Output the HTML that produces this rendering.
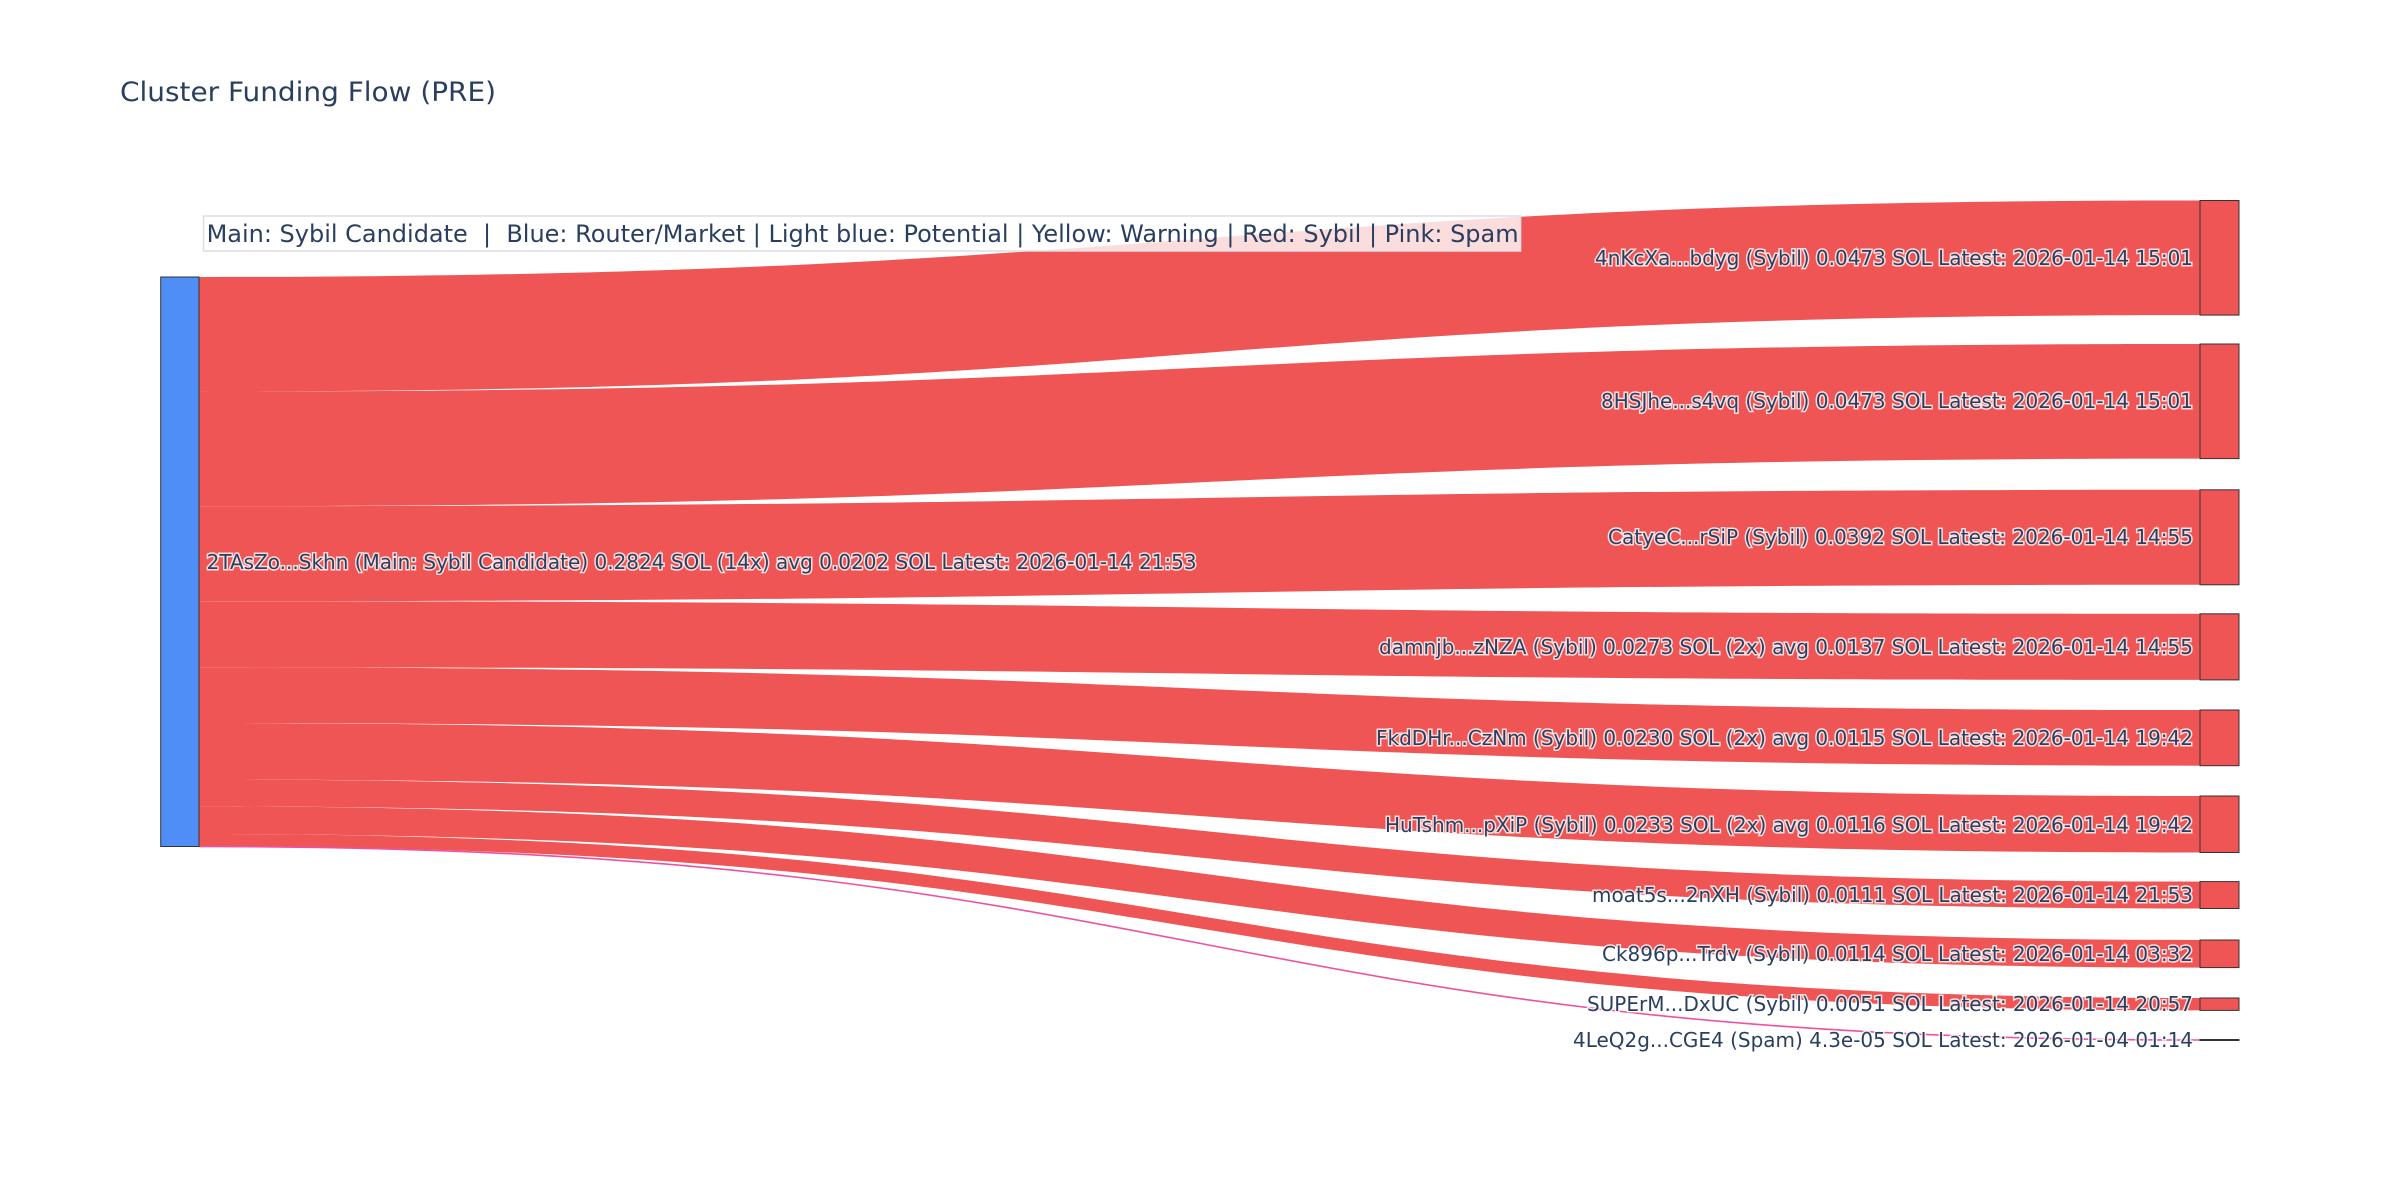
<!DOCTYPE html>
<html><head><meta charset="utf-8"><style>
html,body{margin:0;padding:0;background:#fff;}
svg{display:block;}
.lbl{font-family:"DejaVu Sans","Liberation Sans",sans-serif;font-size:20px;fill:#2a3f5f;paint-order:stroke;stroke:#fff;stroke-width:3px;stroke-opacity:0.8;}
</style></head><body>
<svg width="2400" height="1200" xmlns="http://www.w3.org/2000/svg">
<rect width="2400" height="1200" fill="#fff"/>
<text x="120" y="101" font-family="DejaVu Sans,Liberation Sans,sans-serif" font-size="27" fill="#2a3f5f" textLength="376" lengthAdjust="spacingAndGlyphs">Cluster Funding Flow (PRE)</text>
<g fill="#ef5555">
<path d="M199,277 C1199.5,277 1199.5,200.5 2200,200.5 L2200,315.1 C1199.5,315.1 1199.5,391.6 199,391.6 Z"/>
<path d="M199,391.6 C1199.5,391.6 1199.5,344 2200,344 L2200,458.6 C1199.5,458.6 1199.5,506.2 199,506.2 Z"/>
<path d="M199,506.2 C1199.5,506.2 1199.5,489.8 2200,489.8 L2200,584.8 C1199.5,584.8 1199.5,601.2 199,601.2 Z"/>
<path d="M199,601.2 C1199.5,601.2 1199.5,613.8 2200,613.8 L2200,679.9 C1199.5,679.9 1199.5,667.3 199,667.3 Z"/>
<path d="M199,667.3 C1199.5,667.3 1199.5,710 2200,710 L2200,765.7 C1199.5,765.7 1199.5,723 199,723 Z"/>
<path d="M199,723 C1199.5,723 1199.5,796 2200,796 L2200,852.5 C1199.5,852.5 1199.5,779.5 199,779.5 Z"/>
<path d="M199,779.5 C1199.5,779.5 1199.5,881.6 2200,881.6 L2200,908.5 C1199.5,908.5 1199.5,806.4 199,806.4 Z"/>
<path d="M199,806.4 C1199.5,806.4 1199.5,940 2200,940 L2200,967.6 C1199.5,967.6 1199.5,834 199,834 Z"/>
<path d="M199,834 C1199.5,834 1199.5,998 2200,998 L2200,1010.4 C1199.5,1010.4 1199.5,846.4 199,846.4 Z"/>
</g>
<path d="M199,846.5 C1199.5,846.5 1199.5,1040 2200,1040" fill="none" stroke="#f050a0" stroke-width="1.6"/>
<rect x="160.7" y="277" width="38.3" height="569.5" fill="#4f8ef7" stroke="#333" stroke-width="1"/>
<g fill="#ef5555" stroke="#333" stroke-width="1">
<rect x="2200" y="200.5" width="39" height="114.6"/>
<rect x="2200" y="344" width="39" height="114.6"/>
<rect x="2200" y="489.8" width="39" height="95"/>
<rect x="2200" y="613.8" width="39" height="66.1"/>
<rect x="2200" y="710" width="39" height="55.7"/>
<rect x="2200" y="796" width="39" height="56.5"/>
<rect x="2200" y="881.6" width="39" height="26.9"/>
<rect x="2200" y="940" width="39" height="27.6"/>
<rect x="2200" y="998" width="39" height="12.4"/>
<rect x="2200" y="1039.5" width="39" height="1"/>
</g>
<text class="lbl" x="206.6" y="569" textLength="990" lengthAdjust="spacingAndGlyphs">2TAsZo...Skhn (Main: Sybil Candidate) 0.2824 SOL (14x) avg 0.0202 SOL Latest: 2026-01-14 21:53</text>
<g text-anchor="end">
<text class="lbl" x="2193" y="265" textLength="598" lengthAdjust="spacingAndGlyphs">4nKcXa...bdyg (Sybil) 0.0473 SOL Latest: 2026-01-14 15:01</text>
<text class="lbl" x="2193" y="408" textLength="592" lengthAdjust="spacingAndGlyphs">8HSJhe...s4vq (Sybil) 0.0473 SOL Latest: 2026-01-14 15:01</text>
<text class="lbl" x="2193" y="544" textLength="585" lengthAdjust="spacingAndGlyphs">CatyeC...rSiP (Sybil) 0.0392 SOL Latest: 2026-01-14 14:55</text>
<text class="lbl" x="2193" y="654" textLength="814" lengthAdjust="spacingAndGlyphs">damnjb...zNZA (Sybil) 0.0273 SOL (2x) avg 0.0137 SOL Latest: 2026-01-14 14:55</text>
<text class="lbl" x="2193" y="745" textLength="817" lengthAdjust="spacingAndGlyphs">FkdDHr...CzNm (Sybil) 0.0230 SOL (2x) avg 0.0115 SOL Latest: 2026-01-14 19:42</text>
<text class="lbl" x="2193" y="832" textLength="808" lengthAdjust="spacingAndGlyphs">HuTshm...pXiP (Sybil) 0.0233 SOL (2x) avg 0.0116 SOL Latest: 2026-01-14 19:42</text>
<text class="lbl" x="2193" y="902" textLength="601" lengthAdjust="spacingAndGlyphs">moat5s...2nXH (Sybil) 0.0111 SOL Latest: 2026-01-14 21:53</text>
<text class="lbl" x="2193" y="961" textLength="591" lengthAdjust="spacingAndGlyphs">Ck896p...Trdv (Sybil) 0.0114 SOL Latest: 2026-01-14 03:32</text>
<text class="lbl" x="2193" y="1011" textLength="606" lengthAdjust="spacingAndGlyphs">SUPErM...DxUC (Sybil) 0.0051 SOL Latest: 2026-01-14 20:57</text>
<text class="lbl" x="2193" y="1047" textLength="620" lengthAdjust="spacingAndGlyphs">4LeQ2g...CGE4 (Spam) 4.3e-05 SOL Latest: 2026-01-04 01:14</text>
</g>
<rect x="203.6" y="216" width="1317" height="35" fill="#fff" fill-opacity="0.8" stroke="#dddde3" stroke-width="1.5"/>
<text x="206.6" y="242" font-family="DejaVu Sans,Liberation Sans,sans-serif" font-size="24" fill="#2a3f5f" textLength="1312" lengthAdjust="spacingAndGlyphs" xml:space="preserve">Main: Sybil Candidate  |  Blue: Router/Market | Light blue: Potential | Yellow: Warning | Red: Sybil | Pink: Spam</text>
</svg>
</body></html>
